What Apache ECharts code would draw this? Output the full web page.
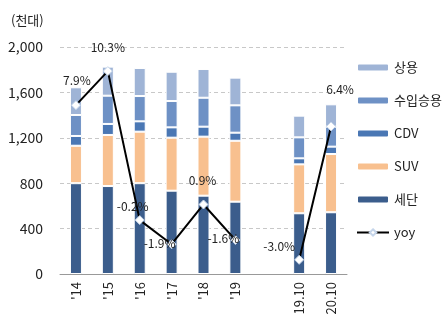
<!DOCTYPE html>
<html><head><meta charset="utf-8">
<script src="https://cdn.jsdelivr.net/npm/echarts@6/dist/echarts.min.js"></script>
<style>html,body{margin:0;padding:0;background:#fff}#c{width:447px;height:325px}</style>
</head><body><div id="c"></div>
<script>
const categories = ["'14", "'15", "'16", "'17", "'18", "'19", "", "19.10", "20.10"];
const sedan   = [800, 775, 800, 734, 690, 637, null, 535, 544];
const suv     = [330, 450, 454, 467, 520, 537, null, 431, 513];
const cdv     = [86, 97, 91, 91, 88, 71, null, 53, 65];
const imported= [185, 249, 223, 232, 255, 241, null, 185, 176];
const commercial=[244, 256, 247, 258, 253, 244, null, 191, 197];
const yoy     = [7.9, 10.3, -0.2, -1.9, 0.9, -1.6, null, -3.0, 6.4];
const yoyLabelOffsets = [[1,-25],[0,-24],[-7,-14],[-12,-1],[-1,-24],[-12,-2],null,[-20,-13],[9,-37]];
const yTicks = [0, 400, 800, 1200, 1600, 2000];

const font = '"Noto Sans CJK KR", "Noto Sans", sans-serif';
const colors = {sedan:'#3b5d8c', suv:'#f8c08f', cdv:'#4a77b4', imp:'#6e91c5', com:'#9fb4d6'};

function barSeries(name, data, color){
  return {name, type:'bar', stack:'t', data, barWidth:12,
    itemStyle:{color, borderColor:'#fff', borderWidth:1}};
}

const chart = echarts.init(document.getElementById('c'), null, {renderer:'canvas'});
chart.setOption({
  animation:false,
  textStyle:{fontFamily:font},
  graphic:[{type:'text', left:11, top:14, style:{text:'(천대)', font:'13px ' + font, fill:'#222'}}],
  grid:{left:60, right:100, top:47, bottom:51, containLabel:false},
  legend:{orient:'vertical', left:351, top:56, itemWidth:32, itemHeight:8, itemGap:20,
    textStyle:{fontSize:13, color:'#222', fontFamily:font},
    data:['상용','수입승용','CDV','SUV','세단','yoy']},
  xAxis:{type:'category', data:categories,
    axisLine:{lineStyle:{color:'#999'}},
    axisTick:{lineStyle:{color:'#999'}, length:6},
    axisLabel:{rotate:90, fontSize:13, color:'#222', margin:8, fontFamily:font}},
  yAxis:[{type:'value', min:yTicks[0], max:yTicks[yTicks.length-1], interval:400,
    axisLine:{show:false}, axisTick:{show:false},
    axisLabel:{fontSize:14, color:'#222', margin:17, fontFamily:font,
      formatter:v=>v.toLocaleString('en-US')},
    splitLine:{lineStyle:{color:'#c8c8c8', type:[4,3]}}},
   {type:'value', min:-4, max:12, show:false, splitLine:{show:false}}],
  series:[
    barSeries('세단', sedan, colors.sedan),
    barSeries('SUV', suv, colors.suv),
    barSeries('CDV', cdv, colors.cdv),
    barSeries('수입승용', imported, colors.imp),
    barSeries('상용', commercial, colors.com),
    {name:'yoy', type:'line', yAxisIndex:1, connectNulls:false,
     data: yoy.map((v,i)=> v===null ? null : {value:v, label:{offset:yoyLabelOffsets[i]}}),
     symbol:'diamond', symbolSize:9,
     lineStyle:{color:'#000', width:2},
     itemStyle:{color:'#fff', borderColor:'#c5d5ea', borderWidth:1},
     label:{show:true, position:'inside', fontSize:12, color:'#222', fontFamily:font,
       formatter:p=>p.value.toFixed(1)+'%'},
     z:5}
  ]
});
</script></body></html>
